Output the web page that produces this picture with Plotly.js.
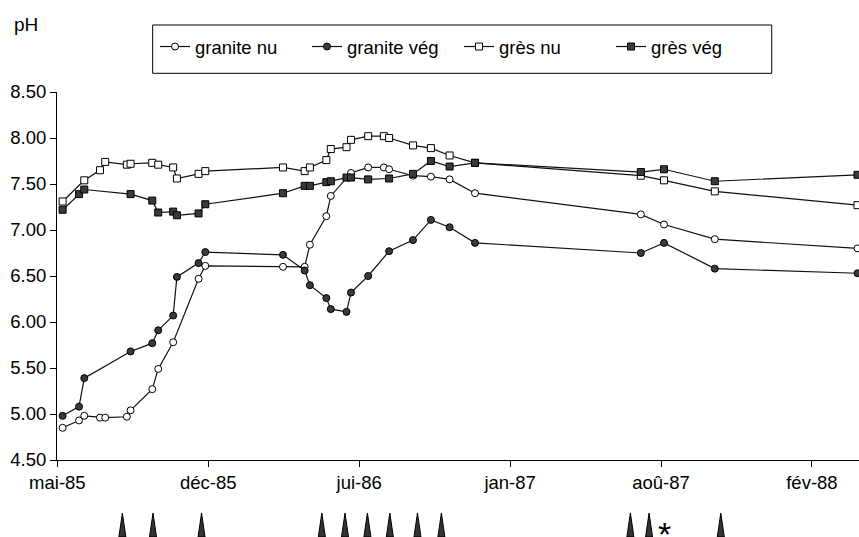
<!DOCTYPE html>
<html><head><meta charset="utf-8">
<script src="https://cdn.plot.ly/plotly-3.0.1.min.js"></script>
<style>html,body{margin:0;padding:0;background:#fff}#chart{width:859px;height:537px}</style>
</head><body><div id="chart"></div>
<script>
// granite nu
const dates_granite_nu = ['1985-05-27','1985-06-18','1985-06-25','1985-07-16','1985-07-23','1985-08-21','1985-08-26','1985-09-24','1985-10-02','1985-10-22','1985-11-25','1985-12-04','1986-03-18','1986-04-16','1986-04-23','1986-05-15','1986-05-21','1986-06-17','1986-07-10','1986-07-31','1986-08-07','1986-09-08','1986-10-02','1986-10-27','1986-11-30','1987-07-10','1987-08-10','1987-10-17','1988-04-25'];
const ph_granite_nu = [4.85,4.93,4.98,4.96,4.96,4.97,5.04,5.27,5.49,5.78,6.47,6.61,6.60,6.60,6.84,7.15,7.37,7.62,7.68,7.68,7.66,7.59,7.58,7.55,7.40,7.17,7.06,6.90,6.80];
// granite vég
const dates_granite_veg = ['1985-05-27','1985-06-18','1985-06-25','1985-08-26','1985-09-24','1985-10-02','1985-10-22','1985-10-27','1985-11-25','1985-12-04','1986-03-18','1986-04-16','1986-04-23','1986-05-15','1986-05-21','1986-06-11','1986-06-17','1986-07-10','1986-08-07','1986-09-08','1986-10-02','1986-10-27','1986-11-30','1987-07-10','1987-08-10','1987-10-17','1988-04-25'];
const ph_granite_veg = [4.98,5.08,5.39,5.68,5.77,5.91,6.07,6.49,6.64,6.76,6.73,6.56,6.40,6.26,6.14,6.11,6.32,6.50,6.77,6.89,7.11,7.03,6.86,6.75,6.86,6.58,6.53];
// grès nu
const dates_gres_nu = ['1985-05-27','1985-06-25','1985-07-16','1985-07-23','1985-08-21','1985-08-26','1985-09-24','1985-10-02','1985-10-22','1985-10-27','1985-11-25','1985-12-04','1986-03-18','1986-04-16','1986-04-23','1986-05-15','1986-05-21','1986-06-11','1986-06-17','1986-07-10','1986-07-31','1986-08-07','1986-09-08','1986-10-02','1986-10-27','1986-11-30','1987-07-10','1987-08-10','1987-10-17','1988-04-25'];
const ph_gres_nu = [7.31,7.54,7.65,7.74,7.71,7.72,7.73,7.71,7.68,7.56,7.61,7.64,7.68,7.64,7.68,7.76,7.88,7.90,7.98,8.02,8.02,8.00,7.92,7.89,7.81,7.73,7.59,7.54,7.42,7.27];
// grès vég
const dates_gres_veg = ['1985-05-27','1985-06-18','1985-06-25','1985-08-26','1985-09-24','1985-10-02','1985-10-22','1985-10-27','1985-11-25','1985-12-04','1986-03-18','1986-04-16','1986-04-23','1986-05-15','1986-05-21','1986-06-11','1986-06-17','1986-07-10','1986-08-07','1986-09-08','1986-10-02','1986-10-27','1986-11-30','1987-07-10','1987-08-10','1987-10-17','1988-04-25'];
const ph_gres_veg = [7.22,7.39,7.44,7.39,7.32,7.19,7.20,7.16,7.18,7.28,7.40,7.48,7.48,7.52,7.53,7.57,7.57,7.55,7.56,7.61,7.75,7.69,7.73,7.63,7.66,7.53,7.60];

const seriesNames = ['granite nu','granite vég','grès nu','grès vég'];
const tickDates = ['1985-05-20','1985-12-08','1986-06-28','1987-01-16','1987-08-06','1988-02-24'];
const tickLabels = ['mai-85','déc-85','jui-86','jan-87','aoû-87','fév-88'];
const yTicks = [4.5,5.0,5.5,6.0,6.5,7.0,7.5,8.0,8.5];
const arrowDates = ['1985-08-15','1985-09-25','1985-11-29','1986-05-09','1986-06-09','1986-07-09','1986-08-08','1986-09-14','1986-10-16','1987-06-26','1987-07-21','1987-10-25'];
const asteriskDate = '1987-08-10';

const FONT = 'Liberation Sans, Arial, Helvetica, sans-serif';
const lineStyle = {color:'#111', width:1.2};

function tr(x, y, name, symbol, fill){
  return {x:x, y:y, name:name, type:'scatter', mode:'lines+markers', line:lineStyle,
    marker:{symbol:symbol, size:7, color:fill, line:{color:'#000', width:1}}, cliponaxis:true};
}
const data = [
  tr(dates_granite_nu, ph_granite_nu, seriesNames[0], 'circle', '#fff'),
  tr(dates_granite_veg, ph_granite_veg, seriesNames[1], 'circle', '#3a3a3a'),
  tr(dates_gres_nu, ph_gres_nu, seriesNames[2], 'square', '#fff'),
  tr(dates_gres_veg, ph_gres_veg, seriesNames[3], 'square', '#3a3a3a')
];

const shapes = arrowDates.map(d => ({type:'path', xref:'x', yref:'paper', xsizemode:'pixel', ysizemode:'pixel',
  xanchor:d, yanchor:-0.2092, path:'M-3.5,0 L0,24 L3.5,0 Z', fillcolor:'#333', line:{color:'#000', width:1}}));
shapes.push({type:'rect', xref:'paper', yref:'paper', x0:0.1193, x1:0.8912, y0:1.0508, y1:1.1821,
  line:{color:'#000', width:1}, fillcolor:'rgba(0,0,0,0)'});

const layout = {
  width:859, height:537,
  margin:{l:57, r:0, t:92, b:77, pad:0},
  paper_bgcolor:'#fff', plot_bgcolor:'#fff',
  font:{family:FONT, size:18.5, color:'#000'},
  showlegend:true,
  legend:{orientation:'h', x:0.1222, xanchor:'left', y:1.1223, yanchor:'middle', borderwidth:0,
    bgcolor:'rgba(0,0,0,0)', font:{family:FONT, size:18.5, color:'#000'}, entrywidth:107, entrywidthmode:'pixels'},
  xaxis:{type:'date', range:['1985-05-19 12:00','1988-04-27'], tickvals:tickDates, ticktext:tickLabels,
    showgrid:false, zeroline:false, showline:true, linecolor:'#000', linewidth:1,
    ticks:'outside', ticklen:6, tickcolor:'#000', tickwidth:1, tickfont:{family:FONT, size:18.5, color:'#000'}},
  yaxis:{range:[4.5,8.5], tickvals:yTicks, tickformat:'.2f', showgrid:false, zeroline:false,
    showline:true, linecolor:'#000', linewidth:1, ticks:'outside', ticklen:6, tickcolor:'#000', tickwidth:1,
    tickfont:{family:FONT, size:18.5, color:'#000'}},
  shapes:shapes,
  annotations:[
    {text:'pH', xref:'paper', yref:'paper', x:-0.0561, y:1.184, xanchor:'left', yanchor:'middle', showarrow:false,
     font:{family:FONT, size:19, color:'#000'}},
    {text:'*', xref:'x', yref:'paper', x:asteriskDate, y:-0.2, xanchor:'center', yanchor:'middle', showarrow:false,
     font:{family:FONT, size:34, color:'#000'}}
  ]
};
Plotly.newPlot('chart', data, layout, {displayModeBar:false, staticPlot:true});
</script></body></html>
